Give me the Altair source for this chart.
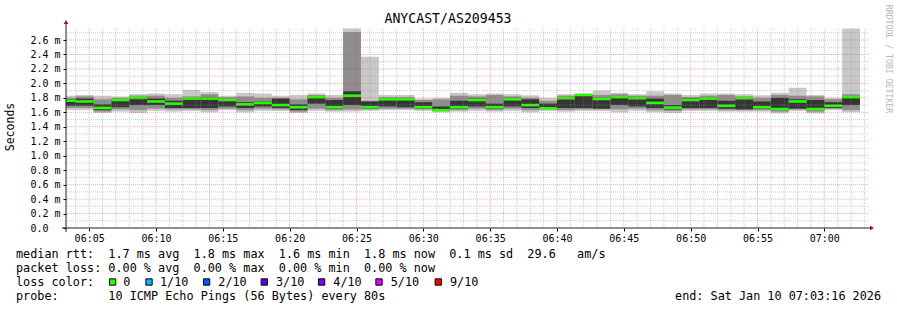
import altair as alt
import pandas as pd

MONO = "DejaVu Sans Mono"

# ---------------- data ----------------
title_text = "ANYCAST/AS209453"
window_start = "06:03:16"
window_end = "07:03:16"

step_start = [
    "06:02:40", "06:04:00", "06:05:20", "06:06:40", "06:08:00", "06:09:20", "06:10:40",
    "06:12:00", "06:13:20", "06:14:40", "06:16:00", "06:17:20", "06:18:40", "06:20:00",
    "06:21:20", "06:22:40", "06:24:00", "06:25:20", "06:26:40", "06:28:00", "06:29:20",
    "06:30:40", "06:32:00", "06:33:20", "06:34:40", "06:36:00", "06:37:20", "06:38:40",
    "06:40:00", "06:41:20", "06:42:40", "06:44:00", "06:45:20", "06:46:40", "06:48:00",
    "06:49:20", "06:50:40", "06:52:00", "06:53:20", "06:54:40", "06:56:00", "06:57:20",
    "06:58:40", "07:00:00", "07:01:20",
]
step_seconds = 80

# median rtt (ms)
median_ms = [1.76, 1.75, 1.66, 1.77, 1.81, 1.75, 1.72, 1.79, 1.79, 1.77, 1.71, 1.73, 1.70, 1.67, 1.81,
             1.67, 1.83, 1.67, 1.78, 1.78, 1.67, 1.63, 1.67, 1.77, 1.67, 1.78, 1.70, 1.655, 1.795, 1.84,
             1.785, 1.81, 1.795, 1.73, 1.665, 1.77, 1.79, 1.69, 1.795, 1.67, 1.645, 1.75, 1.645, 1.69, 1.81]
# outer smoke (min .. max ping)
max_ms = [1.83, 1.84, 1.83, 1.82, 1.85, 1.86, 1.85, 1.91, 1.88, 1.83, 1.87, 1.86, 1.83, 1.84, 1.86,
          1.84, 2.76, 2.37, 1.84, 1.84, 1.79, 1.80, 1.87, 1.85, 1.86, 1.85, 1.835, 1.80, 1.85, 1.86,
          1.90, 1.87, 1.85, 1.89, 1.86, 1.84, 1.86, 1.86, 1.85, 1.835, 1.87, 1.94, 1.84, 1.80, 2.76]
min_ms = [1.63, 1.63, 1.59, 1.61, 1.59, 1.62, 1.61, 1.62, 1.60, 1.63, 1.60, 1.62, 1.62, 1.59, 1.62,
          1.61, 1.61, 1.62, 1.63, 1.63, 1.62, 1.60, 1.61, 1.62, 1.61, 1.62, 1.60, 1.62, 1.61, 1.62,
          1.62, 1.60, 1.62, 1.60, 1.59, 1.62, 1.62, 1.61, 1.61, 1.61, 1.585, 1.62, 1.585, 1.63, 1.60]
# middle smoke
mid_hi = [1.80, 1.82, 1.78, 1.80, 1.83, 1.83, 1.80, 1.82, 1.85, 1.81, 1.82, 1.80, 1.80, 1.78, 1.84,
          1.80, 2.71, 1.76, 1.81, 1.81, 1.77, 1.78, 1.83, 1.82, 1.84, 1.82, 1.80, 1.76, 1.83, 1.85,
          1.84, 1.85, 1.83, 1.83, 1.84, 1.81, 1.83, 1.84, 1.82, 1.80, 1.84, 1.83, 1.82, 1.78, 1.85]
mid_lo = [1.66, 1.66, 1.61, 1.64, 1.63, 1.65, 1.64, 1.64, 1.63, 1.65, 1.63, 1.65, 1.64, 1.61, 1.65,
          1.63, 1.64, 1.64, 1.65, 1.65, 1.64, 1.62, 1.63, 1.65, 1.63, 1.65, 1.63, 1.64, 1.63, 1.64,
          1.64, 1.64, 1.65, 1.63, 1.62, 1.64, 1.64, 1.63, 1.63, 1.63, 1.61, 1.64, 1.61, 1.65, 1.63]
# inner (dark) smoke
core_hi = [1.78, 1.79, 1.71, 1.78, 1.78, 1.79, 1.76, 1.80, 1.81, 1.78, 1.74, 1.75, 1.79, 1.71, 1.82,
           1.77, 1.89, 1.75, 1.79, 1.79, 1.74, 1.68, 1.76, 1.79, 1.72, 1.80, 1.78, 1.72, 1.81, 1.84,
           1.80, 1.82, 1.81, 1.79, 1.70, 1.79, 1.80, 1.76, 1.80, 1.75, 1.80, 1.78, 1.77, 1.74, 1.82]
core_lo = [1.69, 1.69, 1.63, 1.67, 1.70, 1.70, 1.66, 1.66, 1.66, 1.68, 1.66, 1.68, 1.66, 1.63, 1.72,
           1.65, 1.70, 1.65, 1.68, 1.67, 1.65, 1.63, 1.65, 1.68, 1.65, 1.68, 1.66, 1.645, 1.66, 1.66,
           1.65, 1.70, 1.68, 1.66, 1.64, 1.66, 1.66, 1.65, 1.64, 1.65, 1.63, 1.65, 1.63, 1.66, 1.70]

x_tick_minutes = [5, 10, 15, 20, 25, 30, 35, 40, 45, 50, 55, 60]
y_tick_values = [0.0, 0.2, 0.4, 0.6, 0.8, 1.0, 1.2, 1.4, 1.6, 1.8, 2.0, 2.2, 2.4, 2.6]
y_top = 2.766

legend_line1 = "median rtt:  1.7 ms avg  1.8 ms max  1.6 ms min  1.8 ms now  0.1 ms sd  29.6   am/s"
legend_line2 = "packet loss: 0.00 % avg  0.00 % max  0.00 % min  0.00 % now"
legend_line3 = "loss color:"
legend_line4 = "probe:       10 ICMP Echo Pings (56 Bytes) every 80s"
end_text = "end: Sat Jan 10 07:03:16 2026"
loss_labels = ["0", "1/10", "2/10", "3/10", "4/10", "5/10", "9/10"]
loss_colors = ["#26ff00", "#00b8ff", "#0059ff", "#5e00ff", "#7e00ff", "#dd00ff", "#ff0000"]
y_title = "Seconds"
credit = "RRDTOOL / TOBI OETIKER"


def to_min(s):
    h, m, sec = (int(v) for v in s.split(":"))
    return (h - 6) * 60 + m + sec / 60.0


df = pd.DataFrame({
    "start": [to_min(s) for s in step_start],
    "med": median_ms, "lo1": min_ms, "hi1": max_ms,
    "lo2": mid_lo, "hi2": mid_hi, "lo3": core_lo, "hi3": core_hi,
})
df["end"] = df["start"] + step_seconds / 60.0

# ---------------- layout ----------------
W, H = 802, 200
OX, OY = 66, 28  # plot origin in page pixels

x_scale = alt.Scale(domain=[to_min(window_start), to_min(window_end)], nice=False, zero=False)
y_scale = alt.Scale(domain=[0, y_top], nice=False, zero=True)

x_axis = alt.Axis(
    values=x_tick_minutes,
    labelExpr="(datum.value < 60 ? '06:' : '07:') + (datum.value % 60 < 10 ? '0' : '') + (datum.value % 60)",
    labelFont=MONO, labelFontSize=10, labelColor="black", labelPadding=2,
    labelFlush=False, labelOverlap=False,
    tickColor="black", tickSize=3, domain=False, grid=False, title=None,
)
y_axis = alt.Axis(
    values=y_tick_values,
    labelExpr="datum.value == 0 ? '0.0' : format(datum.value, '.1f') + ' m'",
    labelFont=MONO, labelFontSize=10, labelColor="black",
    labelAlign="left", labelBaseline="middle", labelPadding=33,
    labelFlush=False, labelOverlap=False,
    tickColor="black", tickSize=3, domain=False, grid=False, title=None,
)


def X(field):
    return alt.X(field, type="quantitative", scale=x_scale, axis=x_axis)


def Y(field):
    return alt.Y(field, type="quantitative", scale=y_scale, axis=y_axis)


base = alt.Chart(df)


def band(lo, hi, color):
    return base.mark_rect(color=color, clip=True).encode(
        x=X("start"), x2="end:Q", y=Y(lo), y2=f"{hi}:Q",
    )


light = band("lo1", "hi1", "#c8c8c8")
medium = band("lo2", "hi2", "#8e8e8e")
dark = band("lo3", "hi3", "#353535")
median = base.mark_rule(color="#26ff00", strokeWidth=2.6, clip=True).encode(
    x=X("start"), x2="end:Q", y=Y("med"),
)

# grid
gx_minor = [m for m in range(4, 64) if m % 5 != 0]
gx_major = list(range(5, 61, 5))
gy_minor = [round(0.1 * i, 1) for i in range(1, 28, 2)]
gy_major = [round(0.2 * i, 1) for i in range(1, 14)]

grid_v_minor = alt.Chart(pd.DataFrame({"start": gx_minor})).mark_rule(
    color="#8f8f8f", opacity=0.45, strokeDash=[1, 1], strokeWidth=1).encode(x=X("start"))
grid_h_minor = alt.Chart(pd.DataFrame({"lo1": gy_minor})).mark_rule(
    color="#8f8f8f", opacity=0.45, strokeDash=[1, 1], strokeWidth=1).encode(y=Y("lo1"))
grid_v_major = alt.Chart(pd.DataFrame({"start": gx_major})).mark_rule(
    color="#ff3030", opacity=0.4, strokeDash=[1, 1], strokeWidth=1).encode(x=X("start"))
grid_h_major = alt.Chart(pd.DataFrame({"lo1": gy_major})).mark_rule(
    color="#ff3030", opacity=0.4, strokeDash=[1, 1], strokeWidth=1).encode(y=Y("lo1"))

one = pd.DataFrame({"a": [0]})
x_line = alt.Chart(one).mark_rule(color="#202020", strokeWidth=1).encode(
    x=alt.value(-4), x2=alt.value(W + 4), y=alt.value(H))
y_line = alt.Chart(one).mark_rule(color="#202020", strokeWidth=1).encode(
    x=alt.value(0), y=alt.value(H + 4), y2=alt.value(-6))
arrow_up = alt.Chart(one).mark_point(shape="triangle-up", filled=True, size=22,
                                     color="#901818", opacity=1).encode(
    x=alt.value(0), y=alt.value(-6))
arrow_right = alt.Chart(one).mark_point(shape="triangle-right", filled=True, size=22,
                                        color="#901818", opacity=1).encode(
    x=alt.value(W + 4), y=alt.value(H))

NBSP = "\u00a0"


def text(s, x, y, size=11.8, align="left", angle=0, color="black"):
    return alt.Chart(pd.DataFrame({"t": [s.replace(" ", NBSP)]})).mark_text(
        align=align, baseline="middle", fontSize=size, font=MONO, color=color, angle=angle
    ).encode(x=alt.value(x - OX), y=alt.value(y - OY), text="t:N")


texts = [
    text(title_text, 448, 19, size=13.2, align="center"),
    text(legend_line1, 16, 254),
    text(legend_line2, 16, 268),
    text(legend_line3, 16, 282),
    text(legend_line4, 16, 296),
    text(end_text, 881, 296, align="right"),
    text(y_title, 11, 127, size=11.5, align="center", angle=270),
    text(credit, 888, 59, size=8.2, align="center", angle=90, color="#b8b8b8"),
]

square_centers = [112.6, 149.0, 206.6, 264.3, 321.6, 379.0, 438.3]
label_starts = [123.3, 160.0, 218.3, 276.0, 333.3, 390.7, 450.0]
loss_layers = []
for lab, col, sx, tx in zip(loss_labels, loss_colors, square_centers, label_starts):
    loss_layers.append(
        alt.Chart(one).mark_square(size=40, color=col, stroke="black", strokeWidth=1, opacity=1).encode(
            x=alt.value(sx - OX), y=alt.value(282 - OY))
    )
    loss_layers.append(text(lab, tx, 282))

chart = alt.layer(
    light, medium, dark, median,
    grid_v_minor, grid_h_minor, grid_v_major, grid_h_major,
    x_line, y_line, arrow_up, arrow_right,
    *texts, *loss_layers,
).properties(
    width=W, height=H,
    padding={"left": OX, "top": OY, "right": 897 - OX - W, "bottom": 310 - OY - H},
    autosize=alt.AutoSizeParams(type="none"),
    background="white",
).configure_view(stroke=None)

chart.save("out.html", embed_options={"renderer": "svg", "actions": False})
